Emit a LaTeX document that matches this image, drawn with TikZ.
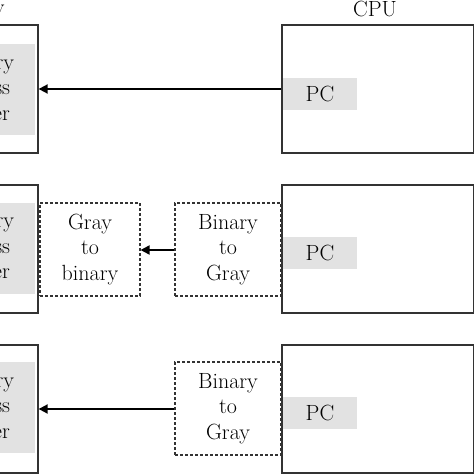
\documentclass[tikz,border=0pt]{standalone}
\usetikzlibrary{arrows.meta}
\definecolor{boxline}{HTML}{333333}
\definecolor{regfill}{HTML}{E2E2E2}
\begin{document}
\begin{tikzpicture}[x=1pt,y=-1pt,
  txt/.style={font=\fontsize{22}{25.5}\selectfont, align=center, text=black},
  membox/.style={draw=boxline, line width=1.3pt, minimum width=138pt, minimum height=128pt, inner sep=0pt},
  cpubox/.style={draw=boxline, line width=1.3pt, minimum width=192pt, minimum height=128pt, inner sep=0pt},
  memreg/.style={fill=regfill, minimum width=115pt, minimum height=91pt, inner sep=0pt},
  memtxt/.style={txt, inner sep=0pt},
  pcreg/.style={txt, fill=regfill, minimum width=74pt, minimum height=32pt, inner sep=0pt},
  convbox/.style={txt, draw=boxline, line width=1.1pt, dash pattern=on 3pt off 2pt, minimum height=93pt, inner sep=0pt},
  link/.style={line width=1.8pt, -{Triangle[length=9pt,width=9pt]}}
]
\useasboundingbox (0,0) rectangle (474,474);
\clip (0,0) rectangle (474,474);
% row 1
\node[membox] (mem1) at (-31,89) {};
\node[txt] (memlbl) at (-32,9) {Memory};
\node[memreg] (mar1) at (-22.5,89.5) {};
\node[memtxt] (mart1) at (-22.5,89.5) {Memory\\address\\register};
\node[cpubox] (cpu1) at (378,89) {};
\node[txt] (cpulbl) at (375,9) {CPU};
\node[pcreg] (pc1) at (320,94) {PC};
\draw[link] (cpu1.west |- 0,89) -- (mem1.east |- 0,89);
% row 2
\node[membox] (mem2) at (-31,249) {};
\node[memreg] (mar2) at (-22.5,248) {};
\node[memtxt] (mart2) at (-22.5,248) {Memory\\address\\register};
\node[cpubox] (cpu2) at (378,249) {};
\node[pcreg] (pc2) at (320,253) {PC};
\node[convbox, minimum width=100pt] (g2b2) at (90,249.5) {Gray\\to\\binary};
\node[convbox, minimum width=106pt] (b2g2) at (228,249.5) {Binary\\to\\Gray};
\draw[link] (b2g2.west |- 0,250) -- (g2b2.east |- 0,250);
% row 3
\node[membox] (mem3) at (-31,409) {};
\node[memreg] (mar3) at (-22.5,407.5) {};
\node[memtxt] (mart3) at (-22.5,407.5) {Memory\\address\\register};
\node[cpubox] (cpu3) at (378,409) {};
\node[pcreg] (pc3) at (320,413) {PC};
\node[convbox, minimum width=106pt] (b2g3) at (228,408.5) {Binary\\to\\Gray};
\draw[link] (b2g3.west |- 0,409) -- (mem3.east |- 0,409);
\end{tikzpicture}
\end{document}
